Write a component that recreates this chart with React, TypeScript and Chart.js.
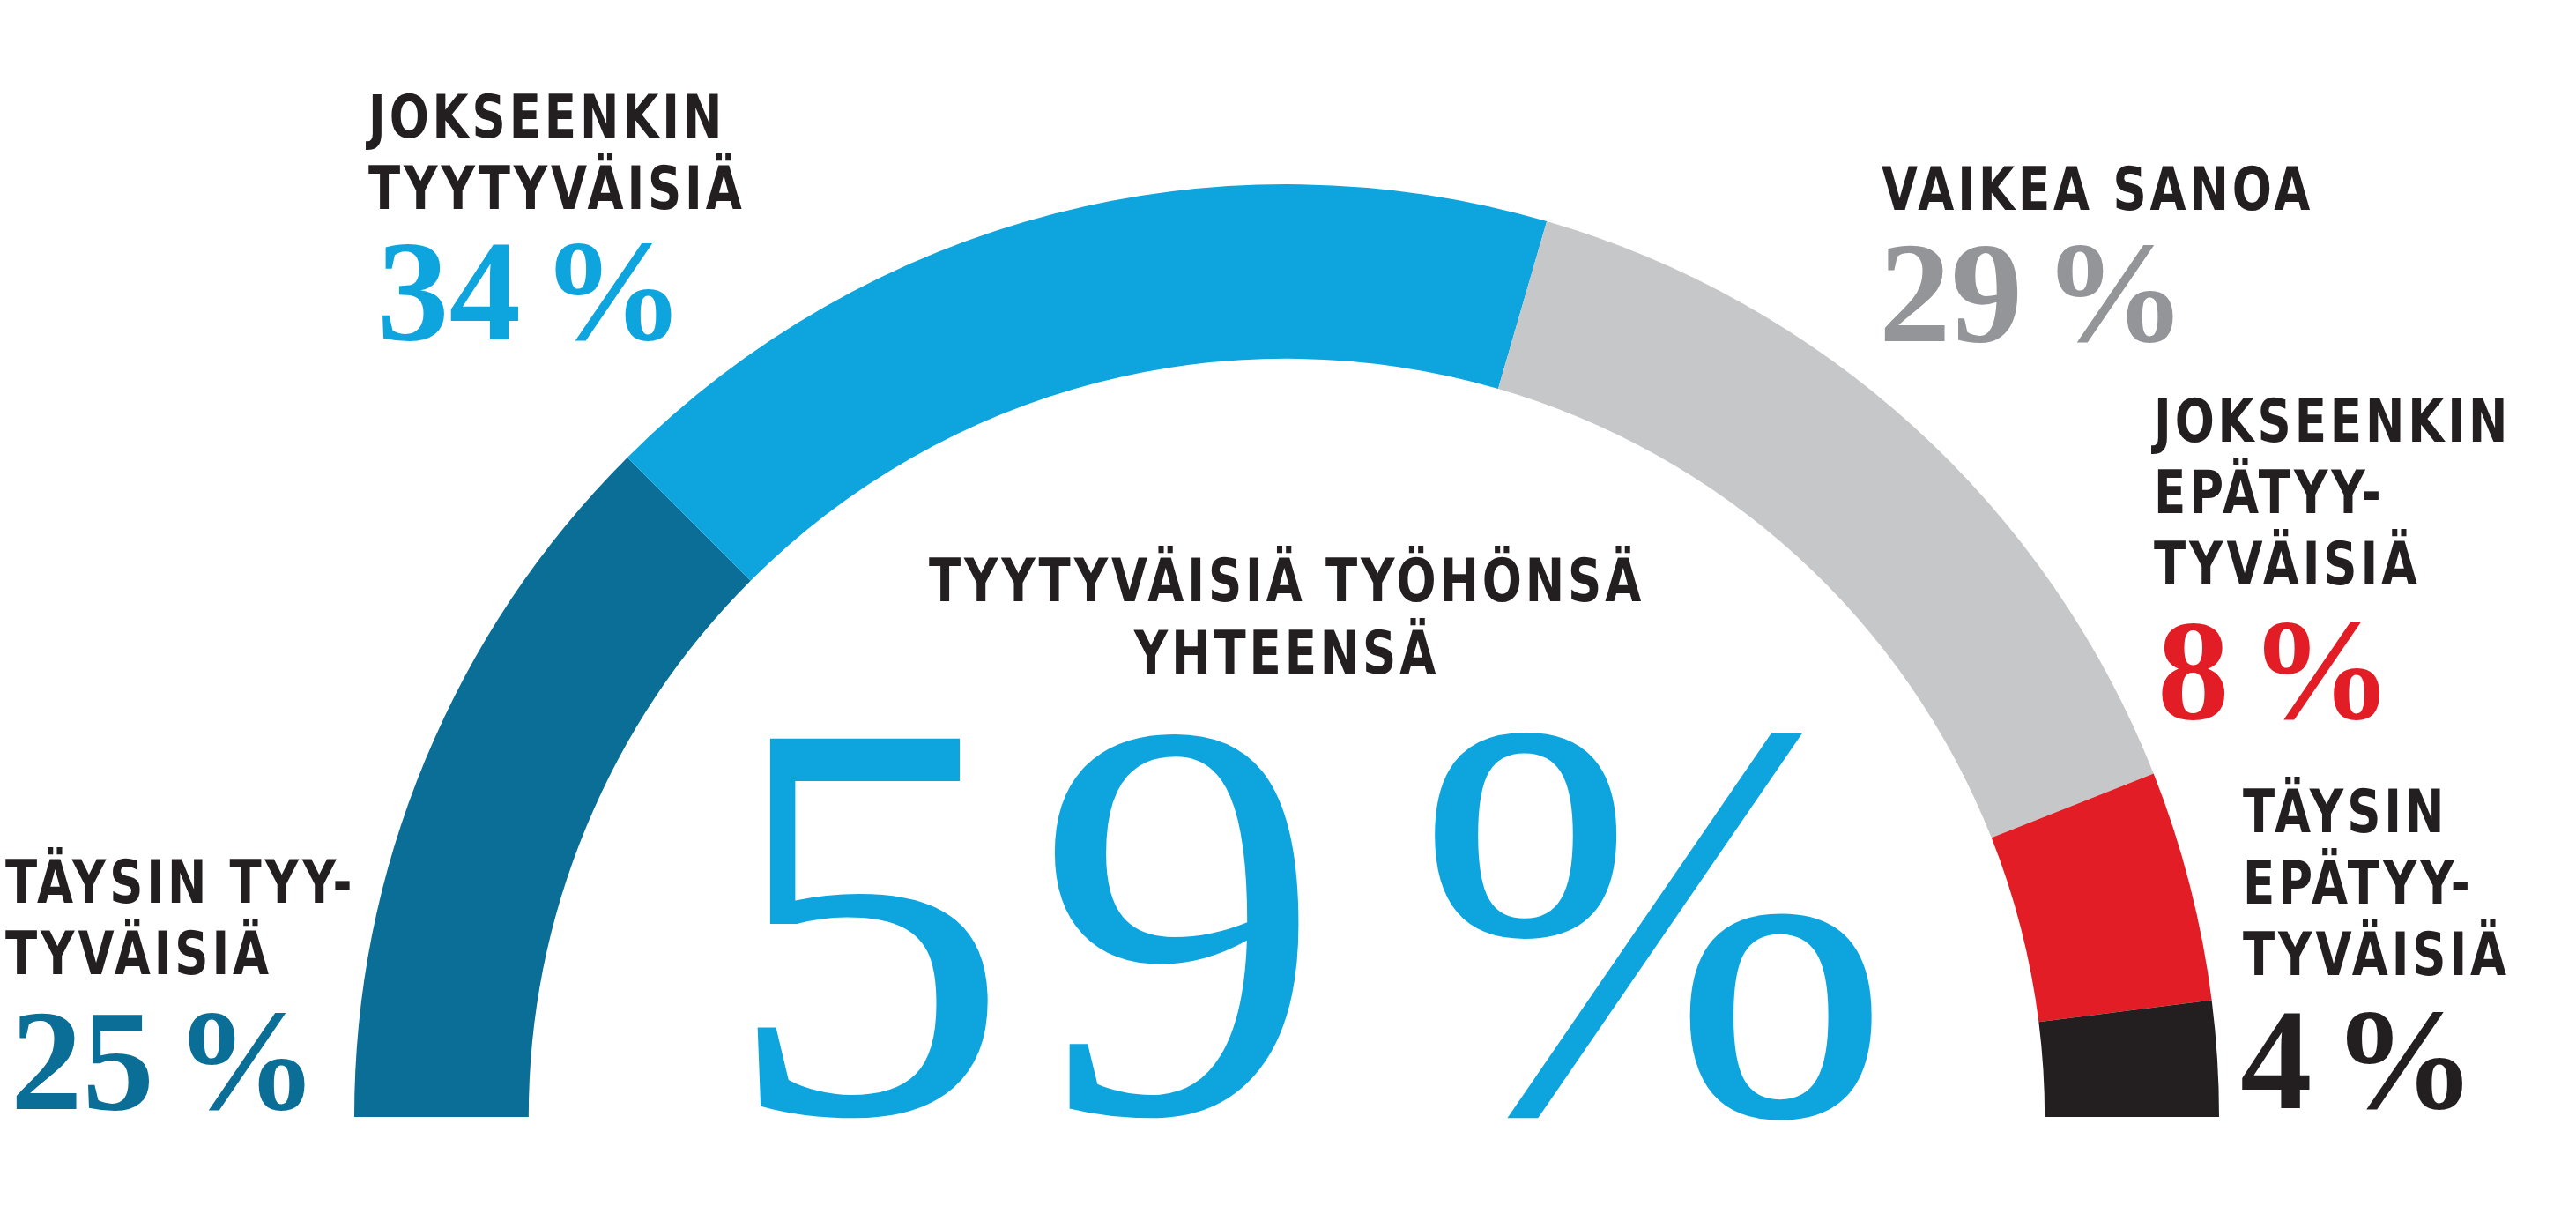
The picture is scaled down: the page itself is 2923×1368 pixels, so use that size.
import { useEffect, useRef } from 'react';
import { Chart, registerables } from 'chart.js';

Chart.register(...registerables);

// survey data
const categories = [
  'Täysin tyytyväisiä',
  'Jokseenkin tyytyväisiä',
  'Vaikea sanoa',
  'Jokseenkin epätyytyväisiä',
  'Täysin epätyytyväisiä',
];
const values = [25, 34, 29, 8, 4];
const labelLines = [
  ['TÄYSIN TYY-', 'TYVÄISIÄ'],
  ['JOKSEENKIN', 'TYYTYVÄISIÄ'],
  ['VAIKEA SANOA'],
  ['JOKSEENKIN', 'EPÄTYY-', 'TYVÄISIÄ'],
  ['TÄYSIN', 'EPÄTYY-', 'TYVÄISIÄ'],
];
const totalLines = ['TYYTYVÄISIÄ TYÖHÖNSÄ', 'YHTEENSÄ'];
const total = values[0] + values[1];

const sliceColors = ['#0a6e97', '#0ea5df', '#c6c7c8', '#e31d25', '#231f20'];
const valueColors = ['#0a6e97', '#0ea5df', '#939598', '#e31d25', '#231f20'];

const W = 2923;
const H = 1368;
const sans = "'DejaVu Sans', sans-serif";
const serif = "'Liberation Serif', 'Noto Serif', 'Times New Roman', serif";
const SANS = 68;
const LINE = 81;
const PCT = 163;

// left edge + first baseline of each label block, left edge + baseline of the value
const labelPos = [
  { x: 6, y: 1025, px: 12, py: 1259 },
  { x: 418, y: 157, px: 428, py: 386 },
  { x: 2135, y: 239, px: 2132, py: 388 },
  { x: 2444, y: 502, px: 2448, py: 816 },
  { x: 2545, y: 945, px: 2542, py: 1258 },
];

function SansLine({ text, x, y, align = 'left' }: { text: string; x: number; y: number; align?: 'left' | 'center' }) {
  const centered = align === 'center';
  return (
    <div
      style={{
        position: 'absolute',
        left: centered ? x - 1000 : x,
        width: centered ? 2000 : undefined,
        textAlign: align,
        top: y - SANS * 0.846,
        fontFamily: sans,
        fontSize: SANS,
        lineHeight: `${SANS}px`,
        fontWeight: 700,
        letterSpacing: 5,
        color: '#231f20',
        whiteSpace: 'nowrap',
        transform: 'scaleX(0.78)',
        transformOrigin: centered ? '50% 50%' : '0 50%',
      }}
    >
      {text}
    </div>
  );
}

function Pct({ text, x, y, size, color, weight = 700, tracking = 0, gap = -0.11 * size }: {
  text: string; x: number; y: number; size: number; color: string; weight?: number; tracking?: number; gap?: number;
}) {
  return (
    <div
      style={{
        position: 'absolute',
        left: x,
        top: y - size * 0.8375,
        fontFamily: serif,
        fontSize: size,
        fontWeight: weight,
        lineHeight: `${size}px`,
        color,
        whiteSpace: 'nowrap',
        letterSpacing: tracking,
        wordSpacing: gap,
      }}
    >
      {text}
    </div>
  );
}

export default function App() {
  const ref = useRef<HTMLCanvasElement>(null);

  useEffect(() => {
    if (!ref.current) return;
    const chart = new Chart(ref.current, {
      type: 'doughnut',
      data: {
        labels: categories,
        datasets: [{
          data: values,
          backgroundColor: sliceColors,
          borderWidth: 0,
        }],
      },
      options: {
        responsive: true,
        maintainAspectRatio: false,
        animation: false,
        events: [],
        rotation: -90,
        circumference: 180,
        cutout: '81.3%',
        radius: 1058,
        layout: { padding: { top: 108, left: 0, right: 3, bottom: 0 } },
        plugins: {
          legend: { display: false },
          tooltip: { enabled: false },
        },
      },
    });
    return () => chart.destroy();
  }, []);

  return (
    <div style={{ position: 'absolute', left: 0, top: 0, width: W, height: H, overflow: 'hidden', background: '#fff' }}>
      <div style={{ position: 'absolute', left: 0, top: 0, width: W, height: H }}>
        <canvas ref={ref} />
      </div>
      {labelLines.map((lines, i) =>
        lines.map((t, j) => (
          <SansLine key={`${i}-${j}`} text={t} x={labelPos[i].x} y={labelPos[i].y + j * LINE} />
        )),
      )}
      {values.map((v, i) => (
        <Pct key={`p${i}`} text={`${v} %`} x={labelPos[i].px} y={labelPos[i].py} size={PCT} color={valueColors[i]} />
      ))}
      {totalLines.map((t, j) => (
        <SansLine key={`t${j}`} text={t} x={1460} y={683 + j * 82} align="center" />
      ))}
      <Pct text={`${total} %`} x={822} y={1263} size={648} color={valueColors[1]} weight={400} tracking={30} gap={-116} />
    </div>
  );
}
